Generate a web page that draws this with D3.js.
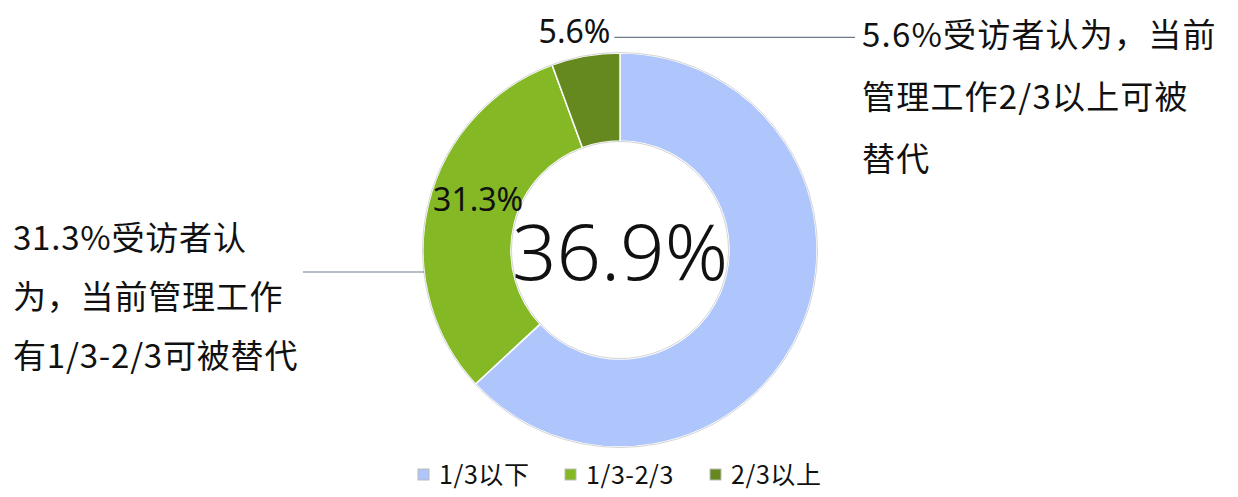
<!DOCTYPE html>
<html>
<head>
<meta charset="utf-8">
<script src="https://cdn.jsdelivr.net/npm/d3@7"></script>
<style>
  body { margin: 0; background: #fff; }
  text { font-family: "Noto Sans CJK SC", "Noto Sans", sans-serif; fill: #111; }
</style>
</head>
<body>
<div id="chart"></div>
<script>
// data
const categories = ["1/3以下", "1/3-2/3", "2/3以上"];
const values = [63.1, 31.3, 5.6];
const colors = ["#aec6fc", "#84b925", "#65891e"];
const centerLabel = "36.9%";
const noteLeft = ["31.3%受访者认", "为，当前管理工作", "有1/3-2/3可被替代"];
const noteRight = ["5.6%受访者认为，当前", "管理工作2/3以上可被", "替代"];

const width = 1238, height = 497;
const cx = 620, cy = 250;
const outerR = 197, innerR = 109;

const svg = d3.select("#chart").append("svg")
  .attr("width", width)
  .attr("height", height);

const data = categories.map((c, i) => ({ cat: c, value: values[i], color: colors[i] }));

const pie = d3.pie().sort(null).value(d => d.value);
const arc = d3.arc().innerRadius(innerR).outerRadius(outerR);
const arcs = pie(data);

const g = svg.append("g").attr("transform", `translate(${cx},${cy})`);

// slices
g.selectAll("path.slice")
  .data(arcs)
  .join("path")
  .attr("class", "slice")
  .attr("d", arc)
  .attr("fill", d => d.data.color)
  .attr("stroke", "#fff")
  .attr("stroke-width", 1.5);

// thin grey rim
[outerR + 0.5, innerR - 0.5].forEach(r => {
  g.append("circle").attr("r", r)
    .attr("fill", "none")
    .attr("stroke", "#d4d4d4")
    .attr("stroke-width", 1);
});

// center number
g.append("text")
  .attr("text-anchor", "middle")
  .attr("y", 30)
  .style("font-family", "'Noto Sans', sans-serif")
  .style("font-weight", 300)
  .style("font-size", "78px")
  .text(centerLabel);

// slice labels
const labelArc = d3.arc().innerRadius(185).outerRadius(185);
const midPos = labelArc.centroid(arcs[1]);
g.append("text")
  .attr("x", midPos[0] + 38)
  .attr("y", midPos[1] + 4)
  .attr("text-anchor", "middle")
  .style("font-size", "32px")
  .style("font-family", "'Noto Sans', sans-serif")
  .text(values[1].toFixed(1) + "%");

const topArc = d3.arc().innerRadius(215).outerRadius(215);
const topPos = topArc.centroid(arcs[2]);
g.append("text")
  .attr("x", topPos[0] + 28)
  .attr("y", topPos[1] + 5)
  .attr("text-anchor", "end")
  .style("font-size", "32px")
  .style("font-family", "'Noto Sans', sans-serif")
  .text(values[2].toFixed(1) + "%");

// leader lines
const lineColor = "#6e7a88";
const topY = topPos[1] - 1;
g.append("line")
  .attr("x1", topPos[0] + 32).attr("y1", topY)
  .attr("x2", 855 - cx).attr("y2", topY)
  .attr("stroke", lineColor).attr("stroke-width", 1.2);

const leftY = 22;
g.append("line")
  .attr("x1", 303 - cx).attr("y1", leftY)
  .attr("x2", -Math.sqrt(outerR * outerR - leftY * leftY)).attr("y2", leftY)
  .attr("stroke", lineColor).attr("stroke-width", 1.2);

// side notes
svg.append("g")
  .selectAll("text")
  .data(noteRight)
  .join("text")
  .attr("x", 862)
  .attr("y", (d, i) => 47 + i * 62)
  .style("font-size", "33px")
  .style("letter-spacing", "1.2px")
  .text(d => d);

svg.append("g")
  .selectAll("text")
  .data(noteLeft)
  .join("text")
  .attr("x", 13)
  .attr("y", (d, i) => 250 + i * 59)
  .style("font-size", "33px")
  .style("letter-spacing", "0.8px")
  .text(d => d);

// legend
const legendX = [418, 565, 710];
const legend = svg.append("g").attr("transform", "translate(0,474)");
const items = legend.selectAll("g")
  .data(data)
  .join("g")
  .attr("transform", (d, i) => `translate(${legendX[i]},0)`);
items.append("rect")
  .attr("x", 0).attr("y", -5)
  .attr("width", 11).attr("height", 11)
  .attr("fill", d => d.color)
  .attr("stroke", "#bbb")
  .attr("stroke-width", 1);
items.append("text")
  .attr("x", 21)
  .attr("y", 10)
  .style("font-size", "25px")
  .style("letter-spacing", "0.6px")
  .text(d => d.cat);
</script>
</body>
</html>
